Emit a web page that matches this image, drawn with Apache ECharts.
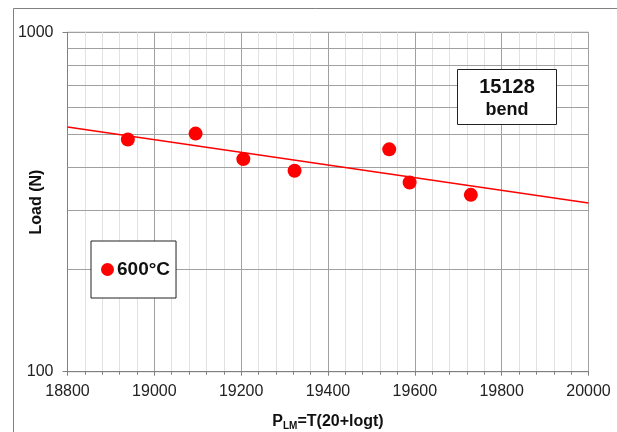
<!DOCTYPE html>
<html>
<head>
<meta charset="utf-8">
<script src="https://cdn.jsdelivr.net/npm/echarts@6/dist/echarts.min.js"></script>
<style>
  html, body { margin: 0; padding: 0; background: #fff; }
  #chart { width: 617px; height: 432px; }
</style>
</head>
<body>
<div id="chart"></div>
<script>
// measured points, 600°C
const plm = [18939, 19095, 19205, 19323, 19541, 19588, 19729];
const load = [483, 503, 423, 391, 452, 361, 332];
// fitted trend line, ends
const trendX = [18800, 20000];
const trendY = [526, 314];
// log grid lines between the decades
const loadGrid = [200, 300, 400, 500, 600, 700, 800, 900];

const FONT = '"Liberation Sans", Arial, sans-serif';

var myChart = echarts.init(document.getElementById('chart'));

const option = {
  animation: false,
  backgroundColor: '#fff',
  textStyle: { fontFamily: FONT },
  grid: {
    left: 67.5,
    right: 28.5,
    top: 32.3,
    bottom: 60.3,
    containLabel: false,
    outerBoundsMode: 'none',
    show: true,
    borderColor: '#8a8a8a',
    borderWidth: 1
  },
  legend: {
    data: ['600°C'],
    left: 91,
    top: 241,
    z: 20,
    orient: 'vertical',
    icon: 'circle',
    itemWidth: 13,
    itemHeight: 13,
    itemGap: 4,
    padding: [19, 6, 19, 10],
    borderColor: '#222',
    borderWidth: 1,
    backgroundColor: '#fff',
    textStyle: { fontFamily: FONT, fontSize: 19, fontWeight: 'bold', color: '#111', padding: [0, 0, 0, -2] }
  },
  xAxis: {
    type: 'value',
    min: 18800,
    max: 20000,
    interval: 200,
    name: '{p|P}{s|LM}{p|=T(20+logt)}',
    nameLocation: 'middle',
    nameGap: 40,
    nameMoveOverlap: false,
    nameTextStyle: {
      rich: {
        p: { fontFamily: FONT, fontSize: 16, fontWeight: 'bold', color: '#111', lineHeight: 20 },
        s: { fontFamily: FONT, fontSize: 10, fontWeight: 'bold', color: '#111', verticalAlign: 'bottom', lineHeight: 14 }
      }
    },
    axisLine: { lineStyle: { color: '#808080' } },
    axisTick: { length: 4, lineStyle: { color: '#808080' } },
    minorTick: { show: true, splitNumber: 5, length: 3, lineStyle: { color: '#808080' } },
    axisLabel: { fontFamily: FONT, fontSize: 16, color: '#222', margin: 12, formatter: (v) => String(v) },
    splitLine: { lineStyle: { color: '#a0a0a0', width: 1 } },
    minorSplitLine: { show: true, lineStyle: { color: '#e2e2e2', width: 1 } }
  },
  yAxis: {
    type: 'log',
    logBase: 10,
    min: 100,
    max: 1000,
    name: 'Load (N)',
    nameLocation: 'middle',
    nameGap: 23,
    nameMoveOverlap: false,
    nameTextStyle: { fontFamily: FONT, fontSize: 16, fontWeight: 'bold', color: '#111' },
    axisLine: { show: true, lineStyle: { color: '#808080' } },
    axisTick: { show: true, length: 5, lineStyle: { color: '#808080' } },
    axisLabel: { fontFamily: FONT, fontSize: 16, color: '#222', margin: 14, formatter: (v) => String(Math.round(v)) },
    splitLine: { lineStyle: { color: '#a0a0a0', width: 1 } }
  },
  graphic: [
    {
      type: 'rect',
      shape: { x: 13.5, y: 8.5, width: 700, height: 500 },
      style: { fill: 'none', stroke: '#808080', lineWidth: 1 },
      silent: true
    },
    {
      type: 'group',
      left: 457,
      top: 69,
      children: [
        {
          type: 'rect',
          z: 100,
          shape: { x: 0.5, y: 0.5, width: 99, height: 55 },
          style: { fill: '#fff', stroke: '#222', lineWidth: 1 }
        },
        {
          type: 'text',
          z: 101,
          x: 50, y: 18,
          style: { text: '15128', font: 'bold 20px ' + FONT, fill: '#111', align: 'center', verticalAlign: 'middle' }
        },
        {
          type: 'text',
          z: 101,
          x: 50, y: 41,
          style: { text: 'bend', font: 'bold 18px ' + FONT, fill: '#111', align: 'center', verticalAlign: 'middle' }
        }
      ]
    }
  ],
  series: [
    {
      name: 'trend',
      type: 'line',
      z: 2,
      data: trendX.map((x, i) => [x, trendY[i]]),
      symbol: 'none',
      lineStyle: { color: '#ff0000', width: 1.5 },
      silent: true,
      markLine: {
        silent: true,
        z: 1,
        symbol: 'none',
        label: { show: false },
        lineStyle: { color: '#a0a0a0', width: 1, type: 'solid' },
        data: loadGrid.map((v) => ({ yAxis: v }))
      }
    },
    {
      name: '600°C',
      type: 'scatter',
      z: 3,
      symbol: 'circle',
      symbolSize: 14,
      itemStyle: { color: '#ff0000', opacity: 1 },
      data: plm.map((x, i) => [x, load[i]])
    }
  ]
};

myChart.setOption(option);
</script>
</body>
</html>
